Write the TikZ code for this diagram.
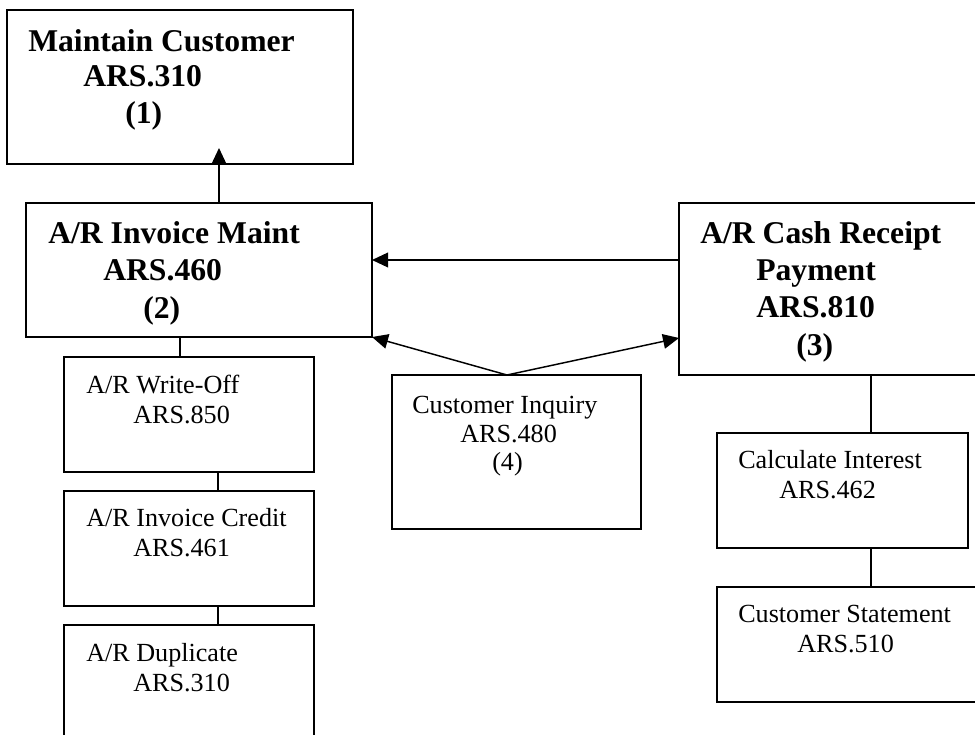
\documentclass[tikz,border=0pt]{standalone}
\usepackage{fontspec}
\setmainfont{Liberation Serif}
\usetikzlibrary{arrows.meta,fit,calc}
\tikzset{
  box/.style={draw, line width=1.5pt, inner sep=0pt, outer sep=0pt},
  bt/.style={anchor=base west, inner sep=0pt, font=\fontsize{23.75pt}{28pt}\selectfont\bfseries},
  rt/.style={anchor=base west, inner sep=0pt, font=\fontsize{19.6pt}{23pt}\selectfont},
  link/.style={line width=1.1pt},
  arr/.style={line width=1.1pt, -{Triangle[length=12pt,width=11pt]}}
}
\begin{document}
\begin{tikzpicture}[x=0.75pt,y=-0.75pt]
\useasboundingbox (0,0) rectangle (975,735);
% boxes
\node[box, fit={(7,10) (353,164)}] (b1) {};
\node[box, fit={(26,203) (372,337)}] (b2) {};
\node[box, fit={(679,203) (979,375)}] (b3) {};
\node[box, fit={(64,357) (314,472)}] (b4) {};
\node[box, fit={(64,491) (314,606)}] (b5) {};
\node[box, fit={(64,625) (314,740)}] (b6) {};
\node[box, fit={(392,375) (641,529)}] (b7) {};
\node[box, fit={(717,433) (968,548)}] (b8) {};
\node[box, fit={(717,587) (979,702)}] (b9) {};
% texts
\node[bt] (t1a) at (28,52) {Maintain Customer};
\node[bt] (t1b) at (83,87) {ARS.310};
\node[bt] (t1c) at (125,123) {(1)};
\node[bt] (t2a) at (48,243) {A/R Invoice Maint};
\node[bt] (t2b) at (103,280) {ARS.460};
\node[bt] (t2c) at (143,318) {(2)};
\node[bt] (t3a) at (700,243) {A/R Cash Receipt};
\node[bt] (t3b) at (756,280) {Payment};
\node[bt] (t3c) at (756,317) {ARS.810};
\node[bt] (t3d) at (796,355) {(3)};
\node[rt] (t4a) at (86,393) {A/R Write-Off};
\node[rt] (t4b) at (133,423) {ARS.850};
\node[rt] (t5a) at (86,526) {A/R Invoice Credit};
\node[rt] (t5b) at (133,556) {ARS.461};
\node[rt] (t6a) at (86,661) {A/R Duplicate};
\node[rt] (t6b) at (133,691) {ARS.310};
\node[rt] (t7a) at (412,413) {Customer Inquiry};
\node[rt] (t7b) at (460,442) {ARS.480};
\node[rt] (t7c) at (492,470) {(4)};
\node[rt] (t8a) at (738,468) {Calculate Interest};
\node[rt] (t8b) at (779,498) {ARS.462};
\node[rt] (t9a) at (738,622) {Customer Statement};
\node[rt] (t9b) at (797,652) {ARS.510};
% connectors
\coordinate (c21) at ($(b2.north west)+(193,0)$);
\draw[arr, shorten >=-12pt] (c21) -- (c21 |- b1.south);
\coordinate (c32) at ($(b3.north west)+(0,57)$);
\draw[arr] (c32) -- (c32 -| b2.east);
\coordinate (c7) at ($(b7.north west)+(115,0)$);
\draw[arr] (c7) -- (b2.south east);
\draw[arr] (c7) -- ($(b3.north west)+(0,135)$);
\coordinate (c24) at ($(b2.south west)+(154,0)$);
\draw[link] (c24) -- (c24 |- b4.north);
\coordinate (c45) at ($(b4.south west)+(154,0)$);
\draw[link] (c45) -- (c45 |- b5.north);
\coordinate (c56) at ($(b5.south west)+(154,0)$);
\draw[link] (c56) -- (c56 |- b6.north);
\coordinate (c38) at ($(b3.south west)+(192,0)$);
\draw[link] (c38) -- (c38 |- b8.north);
\coordinate (c89) at ($(b8.south west)+(154,0)$);
\draw[link] (c89) -- (c89 |- b9.north);
\end{tikzpicture}
\end{document}
